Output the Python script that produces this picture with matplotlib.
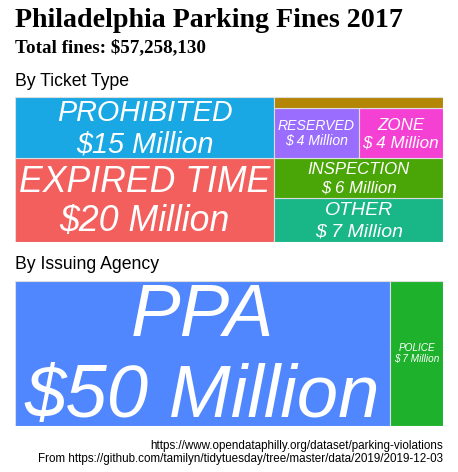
"""Philadelphia parking fines 2017 as two treemaps (ticket type / issuing agency)."""

import matplotlib

matplotlib.use("Agg")
import matplotlib.pyplot as plt  # noqa: E402
from matplotlib.font_manager import FontProperties  # noqa: E402
from matplotlib.patches import Rectangle  # noqa: E402
from matplotlib.textpath import TextPath  # noqa: E402

# fines in millions of dollars
ticket_types = ["EXPIRED TIME", "PROHIBITED", "OTHER", "INSPECTION", "RESERVED", "ZONE", "FIRE HYDRANT"]
ticket_fines = [20.0, 14.7, 6.9, 6.1, 3.9, 3.9, 1.758]
ticket_colors = ["#F25F5C", "#19A8E3", "#19B788", "#4AA606", "#9A6DFF", "#F541D3", "#B38606"]

agencies = ["PPA", "POLICE"]
agency_fines = [50.2, 7.058]
agency_colors = ["#5087FF", "#1DB12C"]

TOTAL_FINES = 57258130

W, H, DPI = 458, 472, 100
LABEL_FONT = FontProperties(family="Liberation Sans", style="italic")
LINE_HEIGHT = 1.08
PAD_PT = 3.0
MIN_SIZE = 4.0


def _worst(row, side):
    s = sum(row)
    return max(max(side * side * r / (s * s), (s * s) / (side * side * r)) for r in row)


def squarify(values, x=0.0, y=0.0, w=1.0, h=1.0):
    """Squarified layout, origin bottom-left; columns go left-to-right, rows bottom-up."""
    scale = w * h / sum(values)
    items = [v * scale for v in values]
    rects = []
    i = 0
    while i < len(items):
        side = min(w, h)
        row = [items[i]]
        j = i + 1
        while j < len(items) and _worst(row + [items[j]], side) <= _worst(row, side):
            row.append(items[j])
            j += 1
        s = sum(row)
        if w >= h:
            cw = s / h
            yy = y
            for r in row:
                rects.append((x, yy, cw, r / cw))
                yy += r / cw
            x += cw
            w -= cw
        else:
            rh = s / w
            xx = x
            for r in row:
                rects.append((xx, y, r / rh, rh))
                xx += r / rh
            y += rh
            h -= rh
        i = j
    return rects


def _ink(text):
    ext = TextPath((0, 0), text, size=100, prop=LABEL_FONT).get_extents()
    return ext.x0 / 100, ext.x1 / 100, ext.y0 / 100, ext.y1 / 100


def draw_treemap(fig, box, names, values, colors):
    left, top, width, height = box  # pixels, measured from the top-left
    ax = fig.add_axes([left / W, 1 - (top + height) / H, width / W, height / H])
    ax.set_xlim(0, 1)
    ax.set_ylim(0, 1)
    ax.axis("off")
    ax_w_pt = width / DPI * 72
    ax_h_pt = height / DPI * 72

    for (x, y, w, h), name, value, color in zip(squarify(values), names, values, colors):
        ax.add_patch(Rectangle((x, y), w, h, facecolor=color, edgecolor="#DDDDDD", linewidth=0.8))

        line1, line2 = name, f"${round(value):2d} Million"
        a = _ink(line1)
        b = _ink(line2)
        ink_w = max(a[1] - a[0], b[1] - b[0])
        ink_h = a[3] + LINE_HEIGHT - b[2]
        size = min((w * ax_w_pt - 2 * PAD_PT) / ink_w, (h * ax_h_pt - 2 * PAD_PT) / ink_h)
        if size < MIN_SIZE:
            continue
        cx = x + w / 2
        top_ink = y + h / 2 + size * ink_h / 2 / ax_h_pt
        base1 = top_ink - size * a[3] / ax_h_pt
        base2 = base1 - size * LINE_HEIGHT / ax_h_pt
        for txt, base in ((line1, base1), (line2, base2)):
            ax.text(cx, base, txt, ha="center", va="baseline", color="white",
                    fontproperties=LABEL_FONT, fontsize=size)
    return ax


fig = plt.figure(figsize=(W / DPI, H / DPI), dpi=DPI)

fig.text(15 / W, 1 - 27 / H, "Philadelphia Parking Fines 2017", family="Liberation Serif",
         weight="bold", fontsize=20.2, va="baseline")
fig.text(15 / W, 1 - 52 / H, f"Total fines: ${TOTAL_FINES:,}", family="Liberation Serif",
         weight="bold", fontsize=13.7, va="baseline")

fig.text(15 / W, 1 - 86 / H, "By Ticket Type", family="Liberation Sans", fontsize=12.7, va="baseline")
draw_treemap(fig, (15, 97, 428, 145), ticket_types, ticket_fines, ticket_colors)

fig.text(15 / W, 1 - 269 / H, "By Issuing Agency", family="Liberation Sans", fontsize=12.7, va="baseline")
draw_treemap(fig, (15, 281, 428, 145), agencies, agency_fines, agency_colors)

fig.text(443 / W, 1 - 449 / H, "https://www.opendataphilly.org/dataset/parking-violations",
         family="Liberation Sans", fontsize=8.4, ha="right", va="baseline")
fig.text(443 / W, 1 - 462 / H,
         "From https://github.com/tamilyn/tidytuesday/tree/master/data/2019/2019-12-03",
         family="Liberation Sans", fontsize=8.4, ha="right", va="baseline")

fig.savefig("out.png", dpi=DPI)
plt.close(fig)
